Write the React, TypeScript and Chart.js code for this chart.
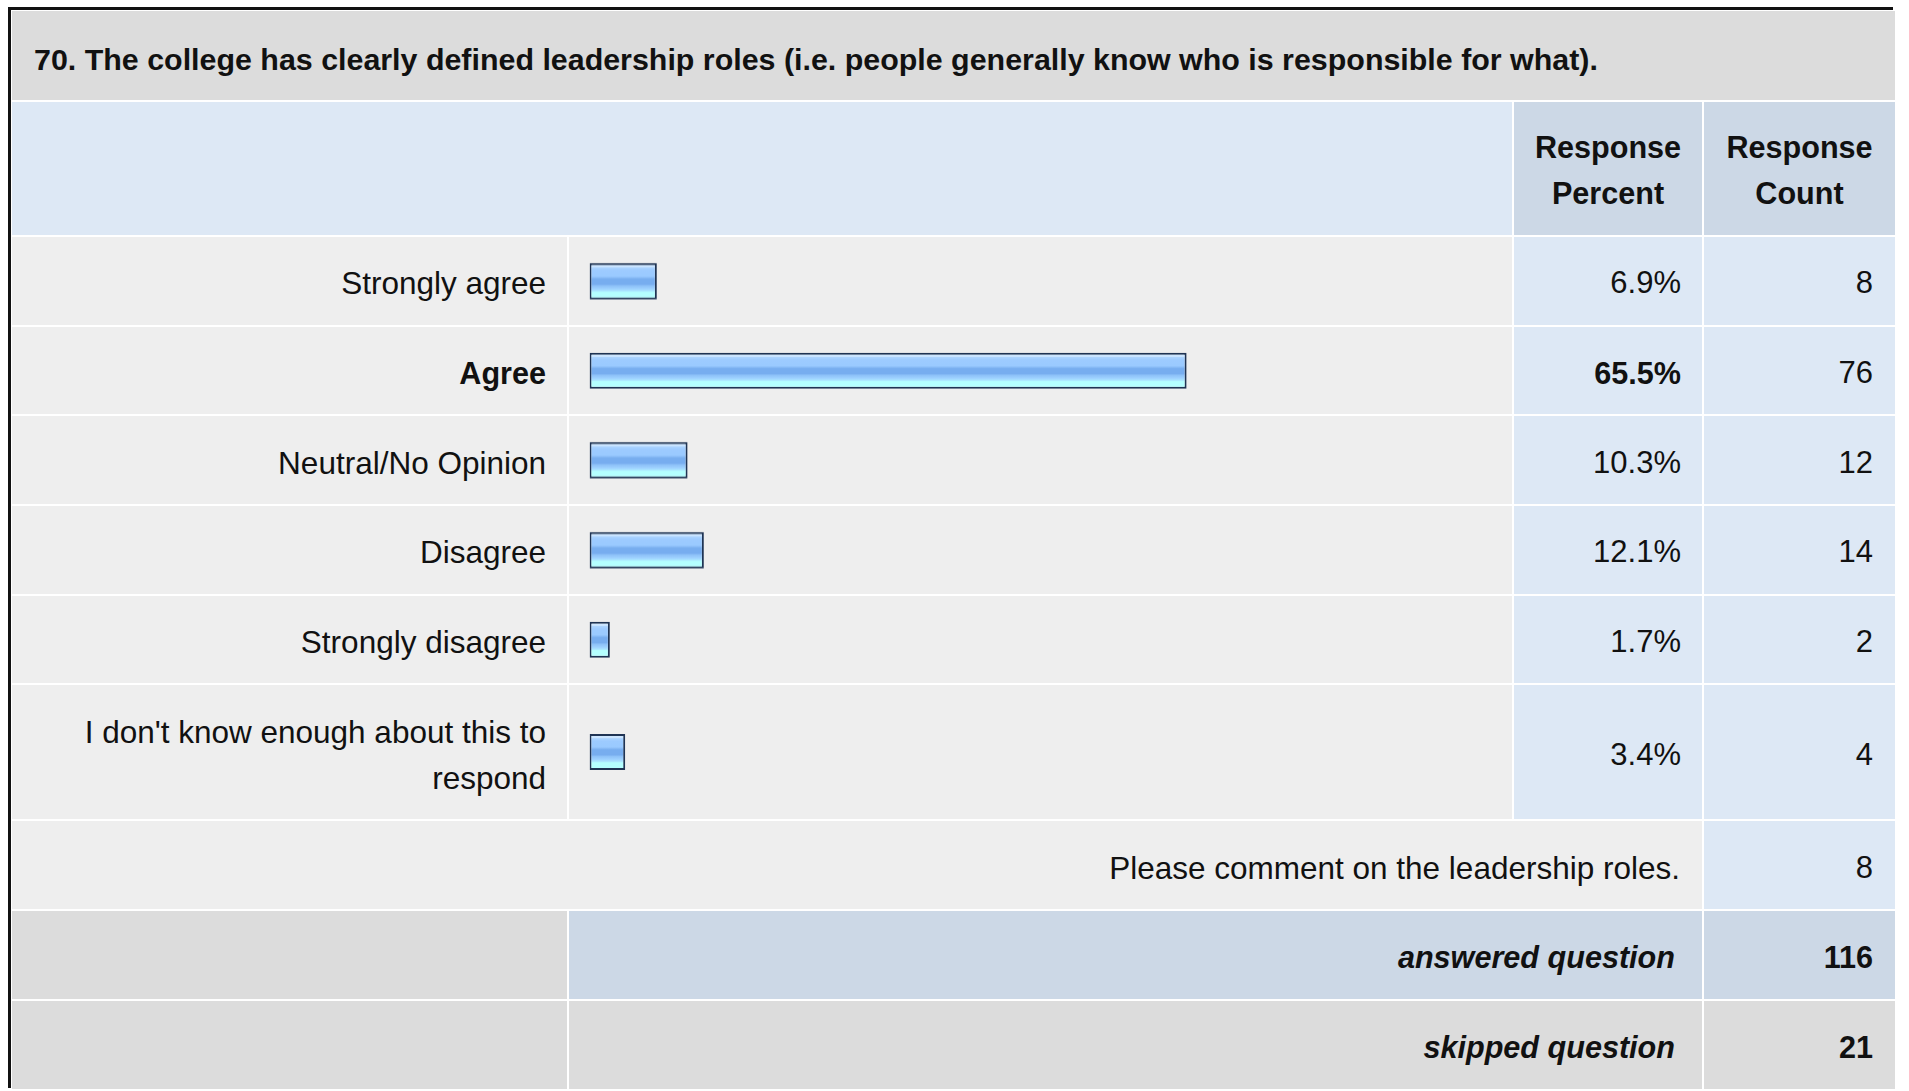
import React, { useEffect, useRef } from "react";
import { Chart, registerables } from "chart.js";

Chart.register(...registerables);

// ---------- data ----------
const questionTitle =
  "70. The college has clearly defined leadership roles (i.e. people generally know who is responsible for what).";
const headerPercent = "Response Percent";
const headerCount = "Response Count";
const categories = [
  "Strongly agree",
  "Agree",
  "Neutral/No Opinion",
  "Disagree",
  "Strongly disagree",
  "I don't know enough about this to respond",
];
const percents = [6.9, 65.5, 10.3, 12.1, 1.7, 3.4];
const counts = [8, 76, 12, 14, 2, 4];
const commentLabel = "Please comment on the leadership roles.";
const commentCount = 8;
const answeredLabel = "answered question";
const answeredCount = 116;
const skippedLabel = "skipped question";
const skippedCount = 21;

// ---------- styling ----------
const FONT = '"Liberation Sans", Arial, Helvetica, sans-serif';
const TEXT = "#111111";
const GRAY_DARK = "#dcdcdc";
const GRAY_LIGHT = "#eeeeee";
const BLUE_LIGHT = "#dde8f5";
const BLUE_MID = "#ccd8e6";
const X_BASE = -0.55; // bar base offset (the small stub every bar has)

function BarCell({ label, value }: { label: string; value: number }) {
  const ref = useRef<HTMLCanvasElement | null>(null);
  useEffect(() => {
    if (!ref.current) return;
    const chart = new Chart(ref.current, {
      type: "bar",
      data: {
        labels: [label],
        datasets: [
          {
            data: [value],
            base: X_BASE,
            barThickness: 36,
            borderWidth: 2,
            borderColor: "#1f3454",
            borderSkipped: false,
            inflateAmount: 0,
            backgroundColor: (ctx: any) => {
              const c = ctx.chart;
              const area = c.chartArea;
              if (!area) return "#9acaff";
              const mid = (area.top + area.bottom) / 2;
              const g = c.ctx.createLinearGradient(0, mid - 18, 0, mid + 18);
              g.addColorStop(0.0, "#cbe5ff");
              g.addColorStop(0.1, "#cbe5ff");
              g.addColorStop(0.13, "#aad3ff");
              g.addColorStop(0.2, "#9dcbff");
              g.addColorStop(0.36, "#9acaff");
              g.addColorStop(0.4, "#88bbf6");
              g.addColorStop(0.44, "#77adef");
              g.addColorStop(0.58, "#77adef");
              g.addColorStop(0.62, "#8dc1f8");
              g.addColorStop(0.7, "#9dd0ff");
              g.addColorStop(0.76, "#aae4ff");
              g.addColorStop(0.8, "#b4ffff");
              g.addColorStop(1.0, "#b4ffff");
              return g;
            },
          } as any,
        ],
      },
      options: {
        indexAxis: "y",
        animation: false,
        responsive: true,
        maintainAspectRatio: false,
        events: [],
        layout: { padding: { left: 20.5, right: 13.5, top: 0, bottom: 0 } },
        plugins: { legend: { display: false }, tooltip: { enabled: false } },
        scales: {
          x: { type: "linear", min: X_BASE, max: 100, display: false },
          y: { display: false },
        },
      } as any,
    });
    return () => chart.destroy();
  }, [label, value]);
  return (
    <div style={{ position: "relative", width: "100%", height: "100%" }}>
      <canvas ref={ref} />
    </div>
  );
}

const cellBase: React.CSSProperties = {
  display: "flex",
  alignItems: "center",
  fontFamily: FONT,
  fontSize: 31.5,
  lineHeight: "46px",
  color: TEXT,
  boxSizing: "border-box",
};

const BOLD_SIZE = 30.6;

export default function App() {
  const maxIdx = percents.indexOf(Math.max(...percents));
  const rowsTemplate = [
    "89px",
    "133px",
    ...categories.map((c) => (c.length > 30 ? "134px" : "87.7px")),
    "87.7px",
    "87.7px",
    "87.7px",
  ].join(" ");

  const right = (pad: number): React.CSSProperties => ({
    ...cellBase,
    justifyContent: "flex-end",
    textAlign: "right",
    paddingRight: pad,
    paddingTop: 5,
  });

  return (
    <>
      <style>{`html,body{margin:0;overflow:hidden;background:#fff;}`}</style>
      <div
        style={{
          position: "absolute",
          left: 8,
          top: 7,
          width: 1885,
          height: 1081,
          boxSizing: "border-box" as any,
          borderLeft: "3px solid #111",
          borderRight: "3px solid #111",
          borderTop: "3px solid #111",
          background: "#fff",
          overflow: "hidden",
        }}
      />
      <div
        style={{
          position: "absolute",
          left: 11,
          top: 10,
          padding: 1,
          background: "#fff",
          display: "grid",
          gridTemplateColumns: "555px 943px 188px 191px",
          gridTemplateRows: rowsTemplate,
          gap: 2,
        }}
      >
        {/* title */}
        <div
          style={{
            ...cellBase,
            gridColumn: "1 / 5",
            background: GRAY_DARK,
            fontWeight: "bold",
            fontSize: 30.4,
            paddingLeft: 22,
            paddingTop: 7,
          }}
        >
          {questionTitle}
        </div>
        {/* header */}
        <div style={{ gridColumn: "1 / 3", background: BLUE_LIGHT }} />
        <div
          style={{
            ...cellBase,
            background: BLUE_MID,
            fontWeight: "bold",
            fontSize: BOLD_SIZE,
            justifyContent: "center",
            textAlign: "center",
            padding: "0 12px",
            paddingTop: 3,
          }}
        >
          {headerPercent}
        </div>
        <div
          style={{
            ...cellBase,
            background: BLUE_MID,
            fontWeight: "bold",
            fontSize: BOLD_SIZE,
            justifyContent: "center",
            textAlign: "center",
            padding: "0 12px",
            paddingTop: 3,
          }}
        >
          {headerCount}
        </div>
        {/* data rows */}
        {categories.map((cat, i) => {
          const bold = i === maxIdx;
          return (
            <React.Fragment key={cat}>
              <div
                style={{
                  ...right(21),
                  paddingLeft: 40,
                  background: GRAY_LIGHT,
                  fontWeight: bold ? "bold" : "normal",
                  fontSize: bold ? BOLD_SIZE : 31.5,
                }}
              >
                {cat}
              </div>
              <div style={{ background: GRAY_LIGHT, position: "relative" }}>
                <BarCell label={cat} value={percents[i]} />
              </div>
              <div
                style={{
                  ...right(21),
                  background: BLUE_LIGHT,
                  fontWeight: bold ? "bold" : "normal",
                  fontSize: bold ? BOLD_SIZE : 31,
                }}
              >
                {percents[i].toFixed(1) + "%"}
              </div>
              <div style={{ ...right(22), background: BLUE_LIGHT, fontSize: 31 }}>
                {counts[i]}
              </div>
            </React.Fragment>
          );
        })}
        {/* comment row */}
        <div style={{ ...right(22), gridColumn: "1 / 4", background: GRAY_LIGHT }}>
          {commentLabel}
        </div>
        <div style={{ ...right(22), background: BLUE_LIGHT, fontSize: 31 }}>{commentCount}</div>
        {/* answered */}
        <div style={{ background: GRAY_DARK }} />
        <div
          style={{
            ...right(27),
            gridColumn: "2 / 4",
            background: BLUE_MID,
            fontWeight: "bold",
            fontStyle: "italic",
            fontSize: BOLD_SIZE,
          }}
        >
          {answeredLabel}
        </div>
        <div style={{ ...right(22), background: BLUE_MID, fontWeight: "bold", fontSize: BOLD_SIZE }}>
          {answeredCount}
        </div>
        {/* skipped */}
        <div style={{ background: GRAY_DARK }} />
        <div
          style={{
            ...right(27),
            gridColumn: "2 / 4",
            background: GRAY_DARK,
            fontWeight: "bold",
            fontStyle: "italic",
            fontSize: BOLD_SIZE,
          }}
        >
          {skippedLabel}
        </div>
        <div style={{ ...right(22), background: GRAY_DARK, fontWeight: "bold", fontSize: BOLD_SIZE }}>
          {skippedCount}
        </div>
      </div>
    </>
  );
}
